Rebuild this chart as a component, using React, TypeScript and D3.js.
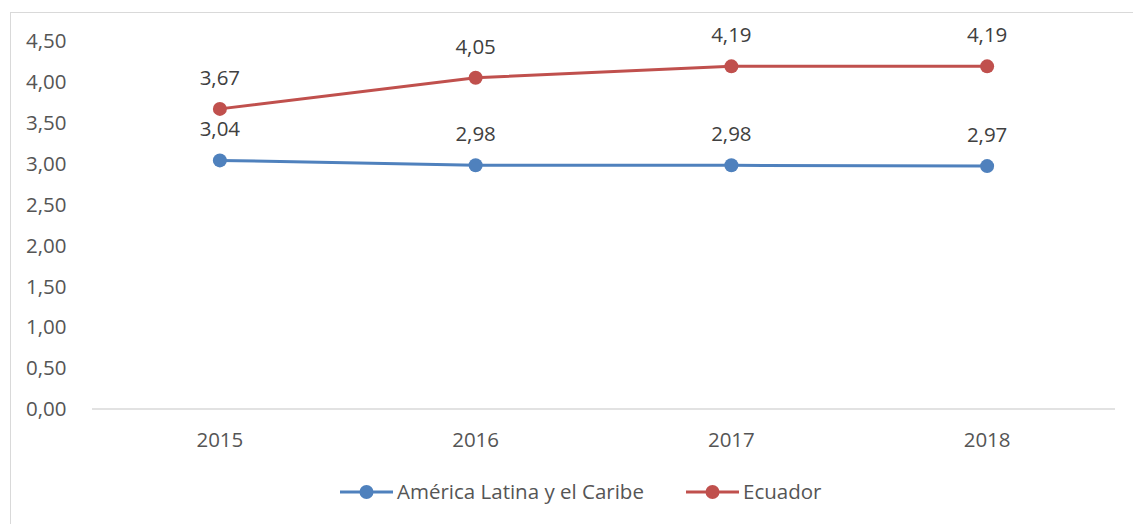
import React, { useEffect, useRef } from 'react'
import * as d3 from 'd3'

const years = ['2015', '2016', '2017', '2018']
const latamValues = [3.04, 2.98, 2.98, 2.97]
const ecuadorValues = [3.67, 4.05, 4.19, 4.19]
const yTicks = [0, 0.5, 1, 1.5, 2, 2.5, 3, 3.5, 4, 4.5]
const seriesNames = ['América Latina y el Caribe', 'Ecuador']

const WIDTH = 1133
const HEIGHT = 524
const FONT = '"Open Sans", Lato, sans-serif'
const TEXT = '#555555'
const FS = 20.5

export default function App() {
  const ref = useRef<SVGSVGElement>(null)

  useEffect(() => {
    const svg = d3.select(ref.current)
    svg.selectAll('*').remove()

    const margin = { top: 41, right: 18, bottom: 115, left: 92 }
    const fmt = (v: number) => v.toFixed(2).replace('.', ',')

    const x = d3
      .scaleBand()
      .domain(years)
      .range([margin.left, WIDTH - margin.right])
    const y = d3
      .scaleLinear()
      .domain([0, 4.5])
      .range([HEIGHT - margin.bottom, margin.top])

    // chart border
    svg
      .append('rect')
      .attr('x', 10.5)
      .attr('y', 12.5)
      .attr('width', WIDTH)
      .attr('height', HEIGHT)
      .attr('fill', 'none')
      .attr('stroke', '#d9d9d9')

    // y tick labels
    svg
      .append('g')
      .selectAll('text')
      .data(yTicks)
      .join('text')
      .attr('x', 26)
      .attr('y', d => y(d))
      .attr('dy', '0.35em')
      .attr('font-family', FONT)
      .attr('font-size', FS)
      .attr('fill', TEXT)
      .text(d => fmt(d))

    // x axis line
    svg
      .append('line')
      .attr('x1', margin.left)
      .attr('x2', WIDTH - margin.right)
      .attr('y1', y(0))
      .attr('y2', y(0))
      .attr('stroke', '#d9d9d9')
      .attr('stroke-width', 1.5)

    svg
      .append('g')
      .selectAll('text')
      .data(years)
      .join('text')
      .attr('x', d => (x(d) as number) + x.bandwidth() / 2)
      .attr('y', y(0) + 38)
      .attr('text-anchor', 'middle')
      .attr('font-family', FONT)
      .attr('font-size', FS)
      .attr('fill', TEXT)
      .text(d => d)

    const series = [
      { name: seriesNames[0], values: latamValues, color: '#4f81bd' },
      { name: seriesNames[1], values: ecuadorValues, color: '#c0504d' },
    ]

    const line = d3
      .line<number>()
      .x((d, i) => (x(years[i]) as number) + x.bandwidth() / 2)
      .y(d => y(d))

    series.forEach(s => {
      const g = svg.append('g')
      g.append('path')
        .attr('d', line(s.values))
        .attr('fill', 'none')
        .attr('stroke', s.color)
        .attr('stroke-width', 3)
      g.selectAll('circle')
        .data(s.values)
        .join('circle')
        .attr('cx', (d, i) => (x(years[i]) as number) + x.bandwidth() / 2)
        .attr('cy', d => y(d))
        .attr('r', 7)
        .attr('fill', s.color)
      g.selectAll('text')
        .data(s.values)
        .join('text')
        .attr('x', (d, i) => (x(years[i]) as number) + x.bandwidth() / 2)
        .attr('y', d => y(d) - 24)
        .attr('text-anchor', 'middle')
        .attr('font-family', FONT)
        .attr('font-size', FS)
        .attr('fill', '#404040')
        .text(d => fmt(d))
    })

    // legend
    const legendX = [340, 686]
    const ly = 492
    series.forEach((s, i) => {
      const g = svg.append('g').attr('transform', `translate(${legendX[i]},${ly})`)
      g.append('line')
        .attr('x1', 0)
        .attr('x2', 53)
        .attr('stroke', s.color)
        .attr('stroke-width', 3)
      g.append('circle').attr('cx', 26.5).attr('r', 7).attr('fill', s.color)
      g.append('text')
        .attr('x', 57)
        .attr('dy', '0.35em')
        .attr('font-family', FONT)
        .attr('font-size', FS)
        .attr('fill', TEXT)
        .text(s.name)
    })
  }, [])

  return (
    <svg
      ref={ref}
      width={WIDTH}
      height={HEIGHT}
      style={{ position: 'absolute', left: 0, top: 0, background: '#fff' }}
    />
  )
}
